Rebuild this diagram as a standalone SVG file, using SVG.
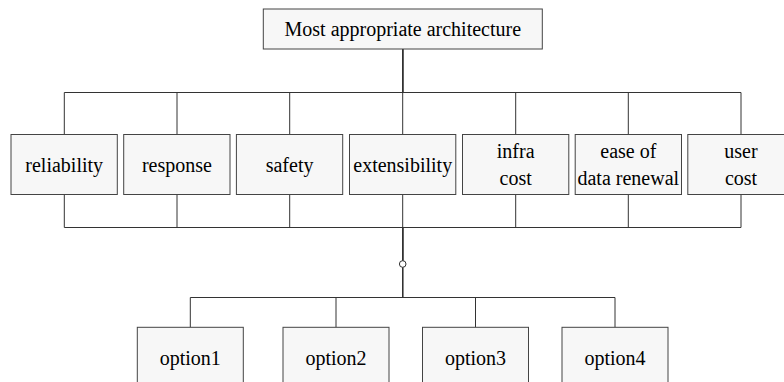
<svg xmlns="http://www.w3.org/2000/svg" width="784" height="382" viewBox="0 0 784 382">
<style>
.box{fill:#f7f7f7;stroke:#444;stroke-width:1}
.c{fill:none;stroke:#333;stroke-width:1}
.dot{fill:#fff;stroke:#333;stroke-width:1}
</style>
<rect width="784" height="382" fill="#fff"/>
<g id="connectors">
<path class="c" d="M402.7,49 V92.5 H64.3 V134.5"/>
<path class="c" d="M402.7,49 V92.5 H177 V134.5"/>
<path class="c" d="M402.7,49 V92.5 H289.7 V134.5"/>
<path class="c" d="M402.7,49 V134.5"/>
<path class="c" d="M402.7,49 V92.5 H515.7 V134.5"/>
<path class="c" d="M402.7,49 V92.5 H628.3 V134.5"/>
<path class="c" d="M402.7,49 V92.5 H741 V134.5"/>
<path class="c" d="M64.3,194.5 V227.5 H402.7 V260.7"/>
<path class="c" d="M177,194.5 V227.5 H402.7 V260.7"/>
<path class="c" d="M289.7,194.5 V227.5 H402.7 V260.7"/>
<path class="c" d="M402.7,194.5 V260.7"/>
<path class="c" d="M515.7,194.5 V227.5 H402.7 V260.7"/>
<path class="c" d="M628.3,194.5 V227.5 H402.7 V260.7"/>
<path class="c" d="M741,194.5 V227.5 H402.7 V260.7"/>
<path class="c" d="M402.7,267.3 V297.5 H190.3 V327.3"/>
<path class="c" d="M402.7,267.3 V297.5 H336 V327.3"/>
<path class="c" d="M402.7,267.3 V297.5 H475.5 V327.3"/>
<path class="c" d="M402.7,267.3 V297.5 H615 V327.3"/>
<circle class="dot" cx="402.7" cy="264" r="3.3"/>
</g>
<g id="root"><rect class="box" x="263.3" y="9" width="279" height="40"/><text x="402.8" y="36" font-family="Liberation Serif" font-size="20" text-anchor="middle">Most appropriate architecture</text></g>
<g id="reliability"><rect class="box" x="11" y="134.5" width="106.3" height="60"/><text x="64.2" y="171.5" font-family="Liberation Serif" font-size="20" text-anchor="middle">reliability</text></g>
<g id="response"><rect class="box" x="123.7" y="134.5" width="106.3" height="60"/><text x="176.9" y="171.5" font-family="Liberation Serif" font-size="20" text-anchor="middle">response</text></g>
<g id="safety"><rect class="box" x="236.4" y="134.5" width="106.3" height="60"/><text x="289.6" y="171.5" font-family="Liberation Serif" font-size="20" text-anchor="middle">safety</text></g>
<g id="extensibility"><rect class="box" x="349.5" y="134.5" width="106.3" height="60"/><text x="402.7" y="171.5" font-family="Liberation Serif" font-size="20" text-anchor="middle">extensibility</text></g>
<g id="infra-cost"><rect class="box" x="462.5" y="134.5" width="106.3" height="60"/><text x="515.7" y="157.7" font-family="Liberation Serif" font-size="20" text-anchor="middle">infra</text><text x="515.7" y="185.3" font-family="Liberation Serif" font-size="20" text-anchor="middle">cost</text></g>
<g id="ease-of-data-renewal"><rect class="box" x="575.2" y="134.5" width="106.3" height="60"/><text x="628.3" y="157.7" font-family="Liberation Serif" font-size="20" text-anchor="middle">ease of</text><text x="628.3" y="185.3" font-family="Liberation Serif" font-size="20" text-anchor="middle">data renewal</text></g>
<g id="user-cost"><rect class="box" x="687.8" y="134.5" width="106.3" height="60"/><text x="741" y="157.7" font-family="Liberation Serif" font-size="20" text-anchor="middle">user</text><text x="741" y="185.3" font-family="Liberation Serif" font-size="20" text-anchor="middle">cost</text></g>
<g id="option1"><rect class="box" x="137.3" y="327.3" width="106" height="61"/><text x="190.3" y="365" font-family="Liberation Serif" font-size="20" text-anchor="middle">option1</text></g>
<g id="option2"><rect class="box" x="283" y="327.3" width="106" height="61"/><text x="336" y="365" font-family="Liberation Serif" font-size="20" text-anchor="middle">option2</text></g>
<g id="option3"><rect class="box" x="422.5" y="327.3" width="106" height="61"/><text x="475.5" y="365" font-family="Liberation Serif" font-size="20" text-anchor="middle">option3</text></g>
<g id="option4"><rect class="box" x="562" y="327.3" width="106" height="61"/><text x="615" y="365" font-family="Liberation Serif" font-size="20" text-anchor="middle">option4</text></g>
</svg>
